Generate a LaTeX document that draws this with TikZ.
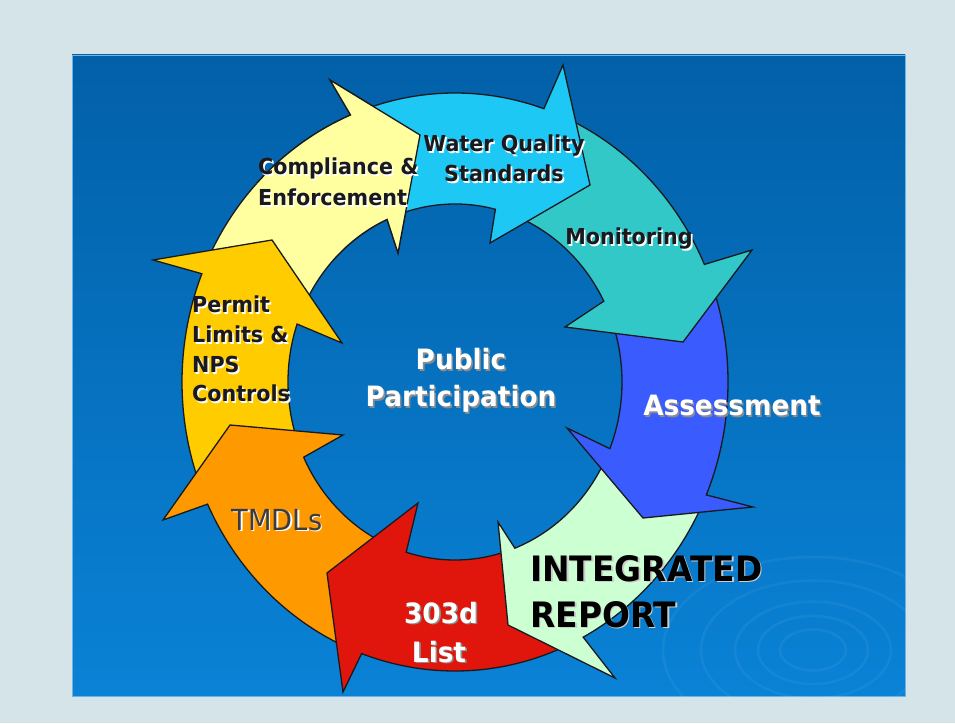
\documentclass[tikz,border=0pt]{standalone}
\usepackage{fontspec}
\setmainfont{DejaVu Sans}[FakeStretch=0.94]
\usetikzlibrary{calc}
\definecolor{pagebg}{RGB}{213,228,232}
\definecolor{slidetop}{RGB}{2,96,168}
\definecolor{slidebot}{RGB}{10,130,214}
\definecolor{wqs}{RGB}{30,200,245}
\definecolor{monit}{RGB}{50,200,200}
\definecolor{assess}{RGB}{58,92,255}
\definecolor{intrep}{RGB}{204,255,210}
\definecolor{list303}{RGB}{224,22,12}
\definecolor{tmdl}{RGB}{255,153,0}
\definecolor{permit}{RGB}{255,204,0}
\definecolor{comply}{RGB}{255,255,160}
\definecolor{inkdark}{RGB}{25,25,30}
% band of the ring: outer radii 273/289, inner radii 167/178 round (C)
\def\ringarrow[#1](#2:#3:#4:#5)(#6)(#7)(#8){\draw[ringedge, fill=#1] ($(C)+(#2:273 and 289)$) arc[start angle=#2, end angle=#4, x radius=273, y radius=289] -- (#6) -- (#7) -- (#8) -- ($(C)+(#5:167 and 178)$) arc[start angle=#5, end angle=#3, x radius=167, y radius=178] -- cycle;}
% label with a soft shadow under it
\newcommand\shlabel[5]{\node[#1, text=#4] at ($(#3)+(1.6,-1.6)$) {#5};
	\node[#1] (#2) at (#3) {#5};}

\begin{document}
\begin{tikzpicture}[x=1pt, y=1pt,
	ringedge/.style={draw=inkdark, line width=1.3, line join=miter},
	lbl/.style={inner sep=0, text=inkdark, font=\bfseries\fontsize{22}{26}\selectfont},
	biglbl/.style={inner sep=0, text=white, font=\bfseries\fontsize{28}{32}\selectfont},
	hugelbl/.style={inner sep=0, text=black, font=\bfseries\fontsize{35}{40}\selectfont}]
			%%%%% START %%%%%
			
			\useasboundingbox (0,0) rectangle (955,723);
			\fill[pagebg] (0,0) rectangle (955,723);
			\shade[top color=slidetop, bottom color=slidebot, draw=slidebot!60!white, line width=0.8] (72,27) rectangle (905,668);
			
			% ripples
			\begin{scope}
				\clip (72,27) rectangle (905,668);
				\foreach \r in {33,55,78,112,150}
					\draw[white, opacity=0.05, line width=2.5] (813,73) ellipse [x radius=\r, y radius={0.62*\r}];
			\end{scope}
			
			\coordinate (C) at (455,341);
			
			\ringarrow[comply](155:155:112.5:114)(330,643)(420,588)(398,470)
			\ringarrow[permit](200:200:158:161)(153,463)(272,483)(342,380)
			\ringarrow[tmdl](245:245:205:205)(163,203)(230,298)(343,288)
			\ringarrow[list303](-65:-71:-110:-107)(343,31)(327,150)(418,220)
			\ringarrow[intrep](-25:-27:-62:-69)(615,45)(508,98)(498,201)
			\ringarrow[assess](20:20:-23:-22)(753,216)(643,205)(567,295)
			\ringarrow[monit](68:68:24:27)(752,473)(683,381)(565,396)
			\ringarrow[wqs](109:109:71:76)(563,658)(590,538)(490,480)
			
			% head of the last arrow back on top
			\begin{scope}
				\clip (C) -- (420,800) -- (-45,841) -- cycle;
				\ringarrow[comply](155:155:112.5:114)(330,643)(420,588)(398,470)
			\end{scope}
			
			\shlabel{lbl, anchor=base}{wqa}{504,571}{white!75}{Water Quality}
			\shlabel{lbl, anchor=base}{wqb}{504,541}{white!75}{Standards}
			\shlabel{lbl, anchor=base west}{cea}{258,548}{white!75}{Compliance \&}
			\shlabel{lbl, anchor=base west}{ceb}{258,517}{white!75}{Enforcement}
			\shlabel{lbl, anchor=base}{mon}{629,478}{white!75}{Monitoring}
			\shlabel{lbl, anchor=base west}{pla}{192,410}{white!75}{Permit}
			\shlabel{lbl, anchor=base west}{plb}{192,380}{white!75}{Limits \&}
			\shlabel{lbl, anchor=base west}{plc}{192,350}{white!75}{NPS}
			\shlabel{lbl, anchor=base west}{pld}{192,321}{white!75}{Controls}
			
			\shlabel{biglbl, anchor=base}{ppa}{461,353}{black!45}{Public}
			\shlabel{biglbl, anchor=base}{ppb}{461,316}{black!45}{Participation}
			\shlabel{biglbl, anchor=base}{ass}{732,307}{black!45}{Assessment}
			\shlabel{biglbl, anchor=base, text=inkdark!85, font=\fontsize{29}{32}\selectfont}{tml}{277,193}{white!70}{TMDLs}
			\shlabel{biglbl, anchor=base}{lsa}{441,100}{black!45}{303d}
			\shlabel{biglbl, anchor=base}{lsb}{439,61}{black!45}{List}
			\shlabel{hugelbl, anchor=base west}{ira}{530,142}{white!60!gray}{INTEGRATED}
			\shlabel{hugelbl, anchor=base west}{irb}{530,96}{white!60!gray}{REPORT}
			
			%%%%% END %%%%%
\end{tikzpicture}
\end{document}
